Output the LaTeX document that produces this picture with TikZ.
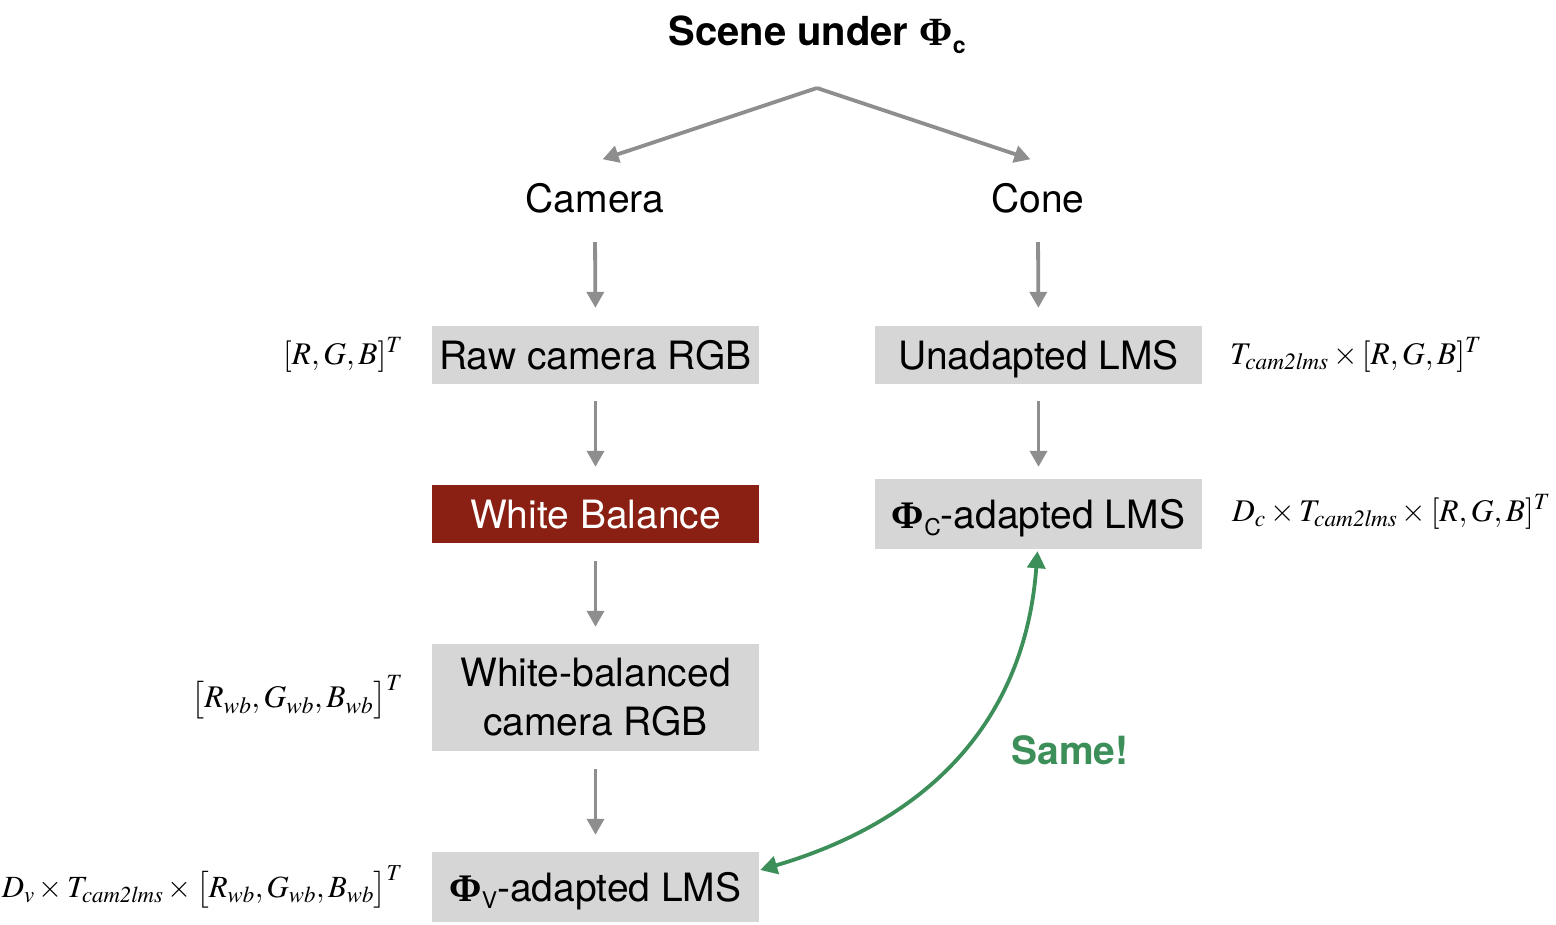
\documentclass[tikz,border=0pt]{standalone}
\usepackage{mathptmx}
\usepackage[no-math]{fontspec}
\setmainfont{TeX Gyre Heros}
\newfontfamily\phifont{Liberation Serif}
\usetikzlibrary{arrows.meta}
\definecolor{boxgray}{HTML}{D6D6D6}
\definecolor{wbred}{HTML}{8A2014}
\definecolor{arrgray}{HTML}{8E8E8E}
\definecolor{samegreen}{HTML}{3D8F5A}
\newcommand{\bigPhi}{{\phifont\bfseries Φ}}
\newcommand{\lowsub}[1]{\raisebox{-0.2em}{\fontsize{23}{23}\selectfont #1}}
\begin{document}
\begin{tikzpicture}[x=1pt,y=-1pt,
  every node/.style={font=\fontsize{39}{48}\selectfont, inner sep=0pt},
  stepbox/.style={fill=boxgray, minimum width=327pt, minimum height=58pt, align=center},
  oneline/.style={text height=28pt, text depth=0pt},
  lbl/.style={font=\fontsize{31.5}{38}\selectfont},
  flow/.style={draw=arrgray, line width=3.8pt, -{Triangle[length=16pt,width=17pt]}},
  samearrow/.style={draw=samegreen, line width=3.8pt, {Triangle[length=17pt,width=18pt]}-{Triangle[length=17pt,width=18pt]}}]
\useasboundingbox (0,0) rectangle (1556,924);

% title
\node[font=\fontsize{40}{48}\selectfont\bfseries] (title) at (817,35) {Scene under \bigPhi\lowsub{c}};
\coordinate (apex) at (817,88);

% column heads
\node[minimum height=72pt, oneline] (camera) at (595,198) {Camera};
\node[minimum height=72pt, oneline] (cone) at (1038,198) {Cone};

% left column
\node[stepbox, oneline] (raw) at (595.5,355) {Raw camera RGB};
\node[stepbox, oneline, fill=wbred, text=white] (wb) at (595.5,514) {White Balance};
\node[stepbox, minimum height=107pt, font=\fontsize{39}{49}\selectfont] (wbc) at (595.5,697.5) {White-balanced\\camera RGB};
\node[stepbox, oneline, minimum height=70pt] (phiv) at (595.5,887) {\bigPhi\lowsub{V}-adapted LMS};

% right column
\node[stepbox, oneline] (unad) at (1038.5,355) {Unadapted LMS};
\node[stepbox, oneline, minimum height=70pt] (phic) at (1038.5,514) {\bigPhi\lowsub{C}-adapted LMS};

% math labels
\node[lbl, anchor=east] (l1) at (403,355) {$[R, G, B]^T$};
\node[lbl, anchor=east] (l2) at (403,697) {$\bigl[R_{wb}, G_{wb}, B_{wb}\bigr]^T$};
\node[lbl, anchor=east, font=\fontsize{30.8}{38}\selectfont] (l3) at (403,887) {$D_v \times T_{\mathit{cam2lms}} \times \bigl[R_{wb}, G_{wb}, B_{wb}\bigr]^T$};
\node[lbl, anchor=west] (r1) at (1230,355) {$T_{\mathit{cam2lms}} \times [R, G, B]^T$};
\node[lbl, anchor=west] (r2) at (1232,512) {$D_c \times T_{\mathit{cam2lms}} \times [R, G, B]^T$};

% same label
\node[font=\fontsize{39}{46}\selectfont\bfseries, text=samegreen] (same) at (1070,750) {Same!};

% connectors
\draw[flow, shorten >=8pt] (apex) -- (camera.north);
\draw[flow, shorten >=8pt] (apex) -- (cone.north);
\draw[flow, shorten <=8pt, shorten >=18pt] (camera.south) -- (raw.north);
\draw[flow, shorten <=8pt, shorten >=18pt] (cone.south) -- (unad.north);
\draw[flow, shorten <=17pt, shorten >=18pt] (raw.south) -- (wb.north);
\draw[flow, shorten <=17pt, shorten >=12pt] (unad.south) -- (phic.north);
\draw[flow, shorten <=18pt, shorten >=17pt] (wb.south) -- (wbc.north);
\draw[flow, shorten <=18pt, shorten >=17pt] (wbc.south) -- (phiv.north);
\draw[samearrow] ([yshift=17pt,xshift=1pt]phiv.east) .. controls (930,820) and (1025,720) .. ([yshift=-2pt,xshift=-1pt]phic.south);
\end{tikzpicture}
\end{document}
